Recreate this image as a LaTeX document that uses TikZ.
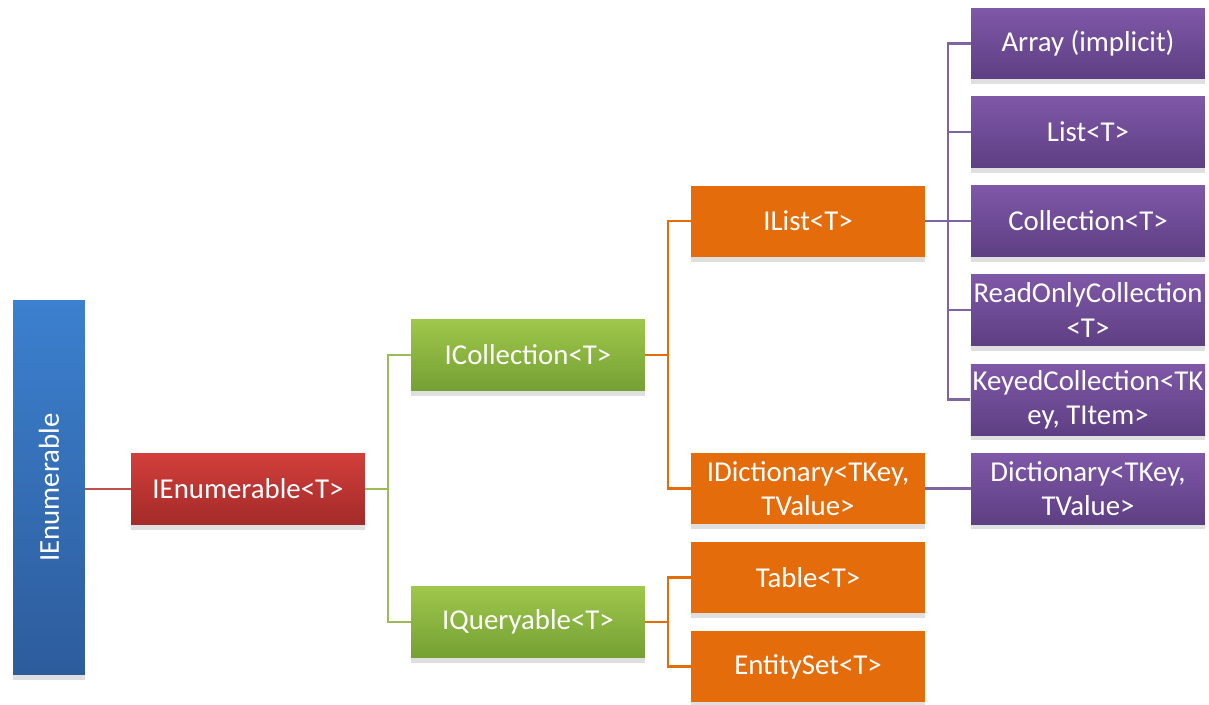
\documentclass[tikz,border=0pt]{standalone}
\usepackage{fontspec}
\setmainfont{Carlito}
\usetikzlibrary{shadows}

\definecolor{blueTop}{HTML}{3C80CF}
\definecolor{blueBot}{HTML}{2D5C9C}
\definecolor{redTop}{HTML}{D23E3B}
\definecolor{redBot}{HTML}{A32B29}
\definecolor{greenTop}{HTML}{9FC74C}
\definecolor{greenBot}{HTML}{75A033}
\definecolor{orangeFill}{HTML}{E46C0A}
\definecolor{purpleTop}{HTML}{7F58A8}
\definecolor{purpleBot}{HTML}{5E3F83}
\definecolor{redLine}{HTML}{C0504D}
\definecolor{greenLine}{HTML}{9BBB59}
\definecolor{purpleLine}{HTML}{8064A2}

\begin{document}
\begin{tikzpicture}[x=0.02cm, y=-0.02cm,
    box/.style={rectangle, minimum width=4.68cm, minimum height=1.42cm, inner sep=1pt, align=center, text=white, font=\fontsize{16.4}{19.5}\selectfont, drop shadow={opacity=0.25, shadow xshift=0pt, shadow yshift=-3pt}},
    bluebox/.style={box, top color=blueTop, bottom color=blueBot, minimum width=1.44cm, minimum height=7.5cm},
    redbox/.style={box, top color=redTop, bottom color=redBot},
    greenbox/.style={box, top color=greenTop, bottom color=greenBot},
    orangebox/.style={box, fill=orangeFill},
    purplebox/.style={box, top color=purpleTop, bottom color=purpleBot},
    link/.style={line width=1.3pt}
]
\useasboundingbox (0,0) rectangle (1209,704);

% Root and first level
\node[bluebox] (ienum) at (49,487.5) {\rotatebox{90}{IEnumerable}};
\node[redbox] (ienumt) at (248,489) {IEnumerable<T>};

% Second level
\node[greenbox] (icoll) at (528,355) {ICollection<T>};
\node[greenbox] (iquery) at (528,622) {IQueryable<T>};

% Third level
\node[orangebox] (ilist) at (808,221) {IList<T>};
\node[orangebox] (idict) at (808,488.5) {IDictionary<TKey,\\TValue>};
\node[orangebox] (table) at (808,577.5) {Table<T>};
\node[orangebox] (entset) at (808,666.5) {EntitySet<T>};

% Concrete classes
\node[purplebox] (array) at (1088,43.5) {Array (implicit)};
\node[purplebox] (list) at (1088,132) {List<T>};
\node[purplebox] (coll) at (1088,221) {Collection<T>};
\node[purplebox] (rocoll) at (1088,310) {ReadOnlyCollection\\<T>};
\node[purplebox] (keycoll) at (1088,399.5) {KeyedCollection<TK\\ey, TItem>};
\node[purplebox] (dict) at (1088,488.5) {Dictionary<TKey,\\TValue>};

% Connectors
\draw[link, redLine] (ienum.east |- ienumt) -- (ienumt);
\foreach \n in {icoll, iquery}
    \draw[link, greenLine] (ienumt.east) -- ++(23,0) |- (\n.west);
\foreach \n in {ilist, idict}
    \draw[link, orangeFill] (icoll.east) -- ++(23,0) |- (\n.west);
\foreach \n in {table, entset}
    \draw[link, orangeFill] (iquery.east) -- ++(23,0) |- (\n.west);
\foreach \n in {array, list, coll, rocoll, keycoll}
    \draw[link, purpleLine] (ilist.east) -- ++(23,0) |- (\n.west);
\draw[link, purpleLine] (idict) -- (dict);
\end{tikzpicture}
\end{document}
